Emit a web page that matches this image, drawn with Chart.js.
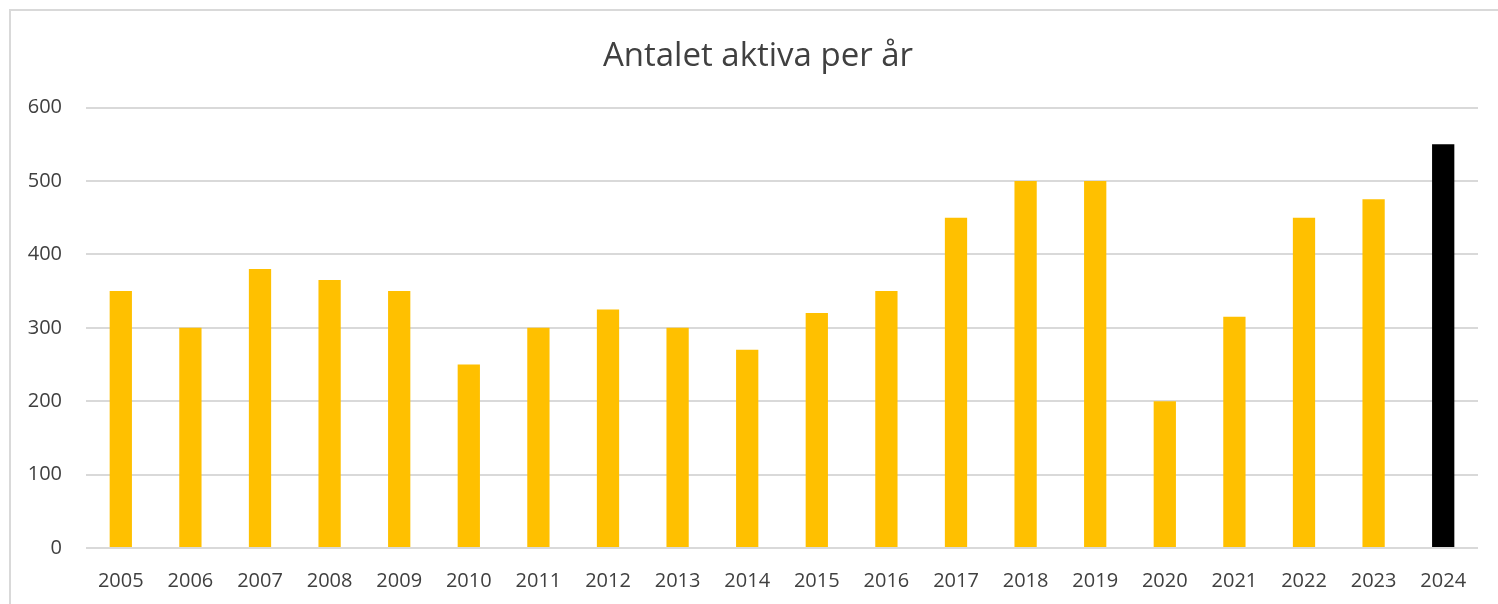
<!DOCTYPE html>
<html>
<head>
<meta charset="utf-8">
<script src="https://cdn.jsdelivr.net/npm/chart.js@4"></script>
<style>
html,body{margin:0;padding:0;background:#fff;}
#wrap{position:absolute;left:0;top:0;width:1498px;height:604px;}
</style>
</head>
<body>
<div id="wrap"><canvas id="c" width="1498" height="604"></canvas></div>
<script>
const years = ['2005','2006','2007','2008','2009','2010','2011','2012','2013','2014','2015','2016','2017','2018','2019','2020','2021','2022','2023','2024'];
const activeCounts = [350,300,380,365,350,250,300,325,300,270,320,350,450,500,500,200,315,450,475,550];
const barColors = ['#FFC000','#FFC000','#FFC000','#FFC000','#FFC000','#FFC000','#FFC000','#FFC000','#FFC000','#FFC000','#FFC000','#FFC000','#FFC000','#FFC000','#FFC000','#FFC000','#FFC000','#FFC000','#FFC000','#000000'];
const yTicks = [0,100,200,300,400,500,600];
const chartTitle = 'Antalet aktiva per år';

const frame = {
  id: 'frame',
  beforeDraw(chart) {
    const ctx = chart.ctx;
    ctx.save();
    ctx.fillStyle = '#fff';
    ctx.fillRect(0, 0, chart.width, chart.height);
    ctx.strokeStyle = '#d9d9d9';
    ctx.lineWidth = 2;
    ctx.strokeRect(10, 10, 1600, 700);
    ctx.restore();
  }
};

const titleShift = {
  id: 'titleShift',
  afterLayout(chart) {
    if (chart.titleBlock) {
      chart.titleBlock.left = 38;
    }
  }
};

Chart.defaults.font.family = '"Open Sans", sans-serif';
Chart.defaults.color = '#404040';

new Chart(document.getElementById('c'), {
  type: 'bar',
  data: {
    labels: years,
    datasets: [{
      data: activeCounts,
      backgroundColor: barColors,
      barPercentage: 0.32,
      categoryPercentage: 1.0
    }]
  },
  plugins: [frame, titleShift],
  options: {
    responsive: false,
    animation: false,
    layout: { padding: { left: 0, right: 20, top: 0, bottom: 0 } },
    plugins: {
      legend: { display: false },
      tooltip: { enabled: false },
      title: {
        display: true,
        text: chartTitle,
        font: { size: 33, weight: 'normal' },
        color: '#404040',
        padding: { top: 37, bottom: 31 }
      }
    },
    scales: {
      x: {
        grid: { display: false },
        border: { display: false },
        ticks: { font: { size: 20 }, padding: 13, maxRotation: 0 },
        afterFit(s) { s.height = 56; }
      },
      y: {
        min: 0, max: 600,
        afterBuildTicks(s) { s.ticks = yTicks.map(v => ({ value: v })); },
        grid: { color: '#d9d9d9', lineWidth: 2, drawTicks: false },
        border: { display: false },
        ticks: { font: { size: 20 }, padding: 24 },
        afterFit(s) { s.width = 86; }
      }
    }
  }
});
</script>
</body>
</html>
